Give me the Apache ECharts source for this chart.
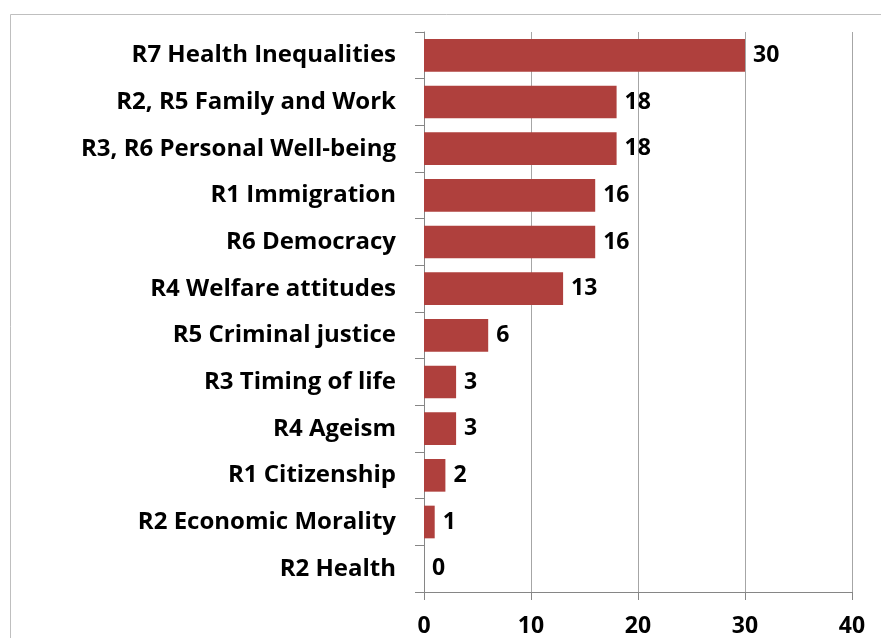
<!DOCTYPE html>
<html>
<head>
<meta charset="utf-8">
<script src="https://cdn.jsdelivr.net/npm/echarts@6/dist/echarts.min.js"></script>
<style>
  html, body { margin: 0; padding: 0; background: #fff; }
  #chart { width: 881px; height: 638px; }
</style>
</head>
<body>
<div id="chart"></div>
<script>
// categories listed top to bottom
var categories = [
  'R7 Health Inequalities',
  'R2, R5 Family and Work',
  'R3, R6 Personal Well-being',
  'R1 Immigration',
  'R6 Democracy',
  'R4 Welfare attitudes',
  'R5 Criminal justice',
  'R3 Timing of life',
  'R4 Ageism',
  'R1 Citizenship',
  'R2 Economic Morality',
  'R2 Health'
]
var counts = [30, 18, 18, 16, 16, 13, 6, 3, 3, 2, 1, 0]
var xTicks = [0, 10, 20, 30, 40]

var font = 'Open Sans'
var chart = echarts.init(document.getElementById('chart'))
chart.setOption({
  animation: false,
  backgroundColor: '#fff',
  graphic: [{
    type: 'rect',
    shape: { x: 10.5, y: 14.5, width: 900, height: 700 },
    style: { fill: 'none', stroke: '#BFBFBF', lineWidth: 1 },
    silent: true
  }],
  grid: {
    left: 424,
    right: 29,
    top: 32,
    bottom: 44,
    containLabel: false
  },
  xAxis: {
    type: 'value',
    min: xTicks[0],
    max: xTicks[xTicks.length - 1],
    interval: 10,
    axisLine: { show: true, lineStyle: { color: '#868686', width: 1 } },
    axisTick: { show: true, length: 8, lineStyle: { color: '#868686' } },
    splitLine: { show: true, lineStyle: { color: '#A6A6A6', width: 1 } },
    axisLabel: {
      margin: 23,
      color: '#000',
      fontFamily: font,
      fontWeight: 'bold',
      fontSize: 23
    }
  },
  yAxis: {
    type: 'category',
    inverse: true,
    data: categories,
    axisLine: { show: true, lineStyle: { color: '#868686', width: 1 } },
    axisTick: { show: true, length: 9, alignWithLabel: false, lineStyle: { color: '#868686' } },
    axisLabel: {
      margin: 28,
      padding: [0, 0, 6, 0],
      color: '#000',
      fontFamily: font,
      fontWeight: 'bold',
      fontSize: 24
    }
  },
  series: [{
    type: 'bar',
    data: counts,
    barCategoryGap: '30%',
    itemStyle: { color: '#AF403D' },
    label: {
      show: true,
      position: 'right',
      distance: 8,
      padding: [0, 0, 6, 0],
      color: '#000',
      fontFamily: font,
      fontWeight: 'bold',
      fontSize: 23
    }
  }]
})
</script>
</body>
</html>
